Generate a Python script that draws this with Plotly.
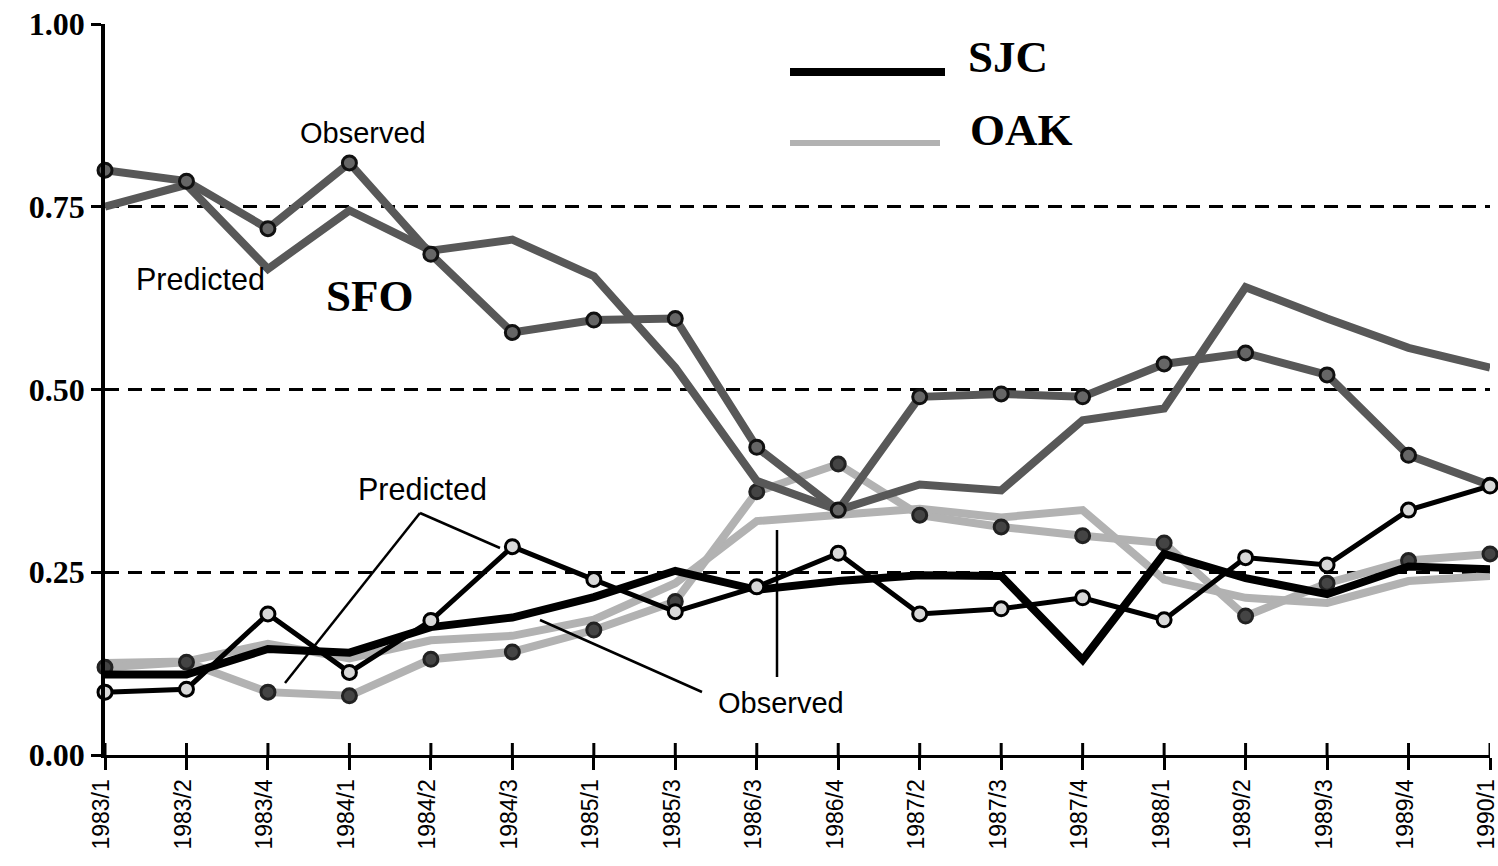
import plotly.graph_objects as go

# Quarterly periods on the category axis
periods = ["1983/1", "1983/2", "1983/4", "1984/1", "1984/2", "1984/3", "1985/1",
           "1985/3", "1986/3", "1986/4", "1987/2", "1987/3", "1987/4", "1988/1",
           "1989/2", "1989/3", "1989/4", "1990/1"]

# Airport shares: observed vs. predicted
sfo_observed = [0.80, 0.785, 0.72, 0.81, 0.685, 0.578, 0.595, 0.597, 0.421, 0.335,
                0.49, 0.494, 0.49, 0.535, 0.55, 0.52, 0.41, 0.369]
sfo_predicted = [0.75, 0.78, 0.665, 0.745, 0.69, 0.705, 0.655, 0.53, 0.375, 0.335,
                 0.37, 0.362, 0.458, 0.474, 0.64, 0.597, 0.557, 0.53]

oak_observed = [0.12, 0.127, 0.086, 0.081, 0.131, 0.141, 0.171, 0.21, 0.36, 0.398,
                0.328, 0.312, 0.30, 0.29, 0.19, 0.235, 0.266, 0.275]
oak_predicted = [0.126, 0.128, 0.152, 0.132, 0.157, 0.163, 0.185, 0.235, 0.32, 0.328,
                 0.337, 0.325, 0.335, 0.24, 0.215, 0.208, 0.238, 0.245]

sjc_observed = [0.086, 0.09, 0.193, 0.113, 0.184, 0.285, 0.24, 0.196, 0.23, 0.276,
                0.193, 0.2, 0.215, 0.185, 0.27, 0.26, 0.335, 0.368]
sjc_predicted = [0.11, 0.11, 0.145, 0.14, 0.175, 0.188, 0.216, 0.252, 0.226, 0.238,
                 0.246, 0.245, 0.13, 0.275, 0.242, 0.22, 0.258, 0.254]

y_ticks = [0.0, 0.25, 0.5, 0.75, 1.0]
y_tick_text = ["0.00", "0.25", "0.50", "0.75", "1.00"]

SFO_GRAY = "#585858"
OAK_GRAY = "#b2b2b2"

fig = go.Figure()


def add_pair(observed, predicted, color, width_obs, width_pred, marker_fill, marker_line):
    fig.add_trace(go.Scatter(
        x=periods, y=predicted, mode="lines",
        line=dict(color=color, width=width_pred), showlegend=False, hoverinfo="skip"))
    fig.add_trace(go.Scatter(
        x=periods, y=observed, mode="lines+markers",
        line=dict(color=color, width=width_obs),
        marker=dict(symbol="circle", size=14, color=marker_fill,
                    line=dict(color=marker_line, width=3)),
        cliponaxis=False, showlegend=False, hoverinfo="skip"))


add_pair(oak_observed, oak_predicted, OAK_GRAY, 8, 8, "#444444", "#222222")
add_pair(sfo_observed, sfo_predicted, SFO_GRAY, 8, 8, "#666666", "#111111")
add_pair(sjc_observed, sjc_predicted, "#000000", 5, 8, "#d8d8d8", "#000000")

L, R, T, B = 105, 8, 24, 111
W, H = 1498, 866
pw, ph = W - L - R, H - T - B


def px(xp):
    return (xp - L) / pw


def py(yp):
    return (H - B - yp) / ph


shapes = []
# tick marks crossing the category axis
for p in periods:
    shapes.append(dict(type="line", xref="x", yref="paper", x0=p, x1=p,
                       y0=0, y1=12 / ph, line=dict(color="black", width=3)))

# legend swatches
shapes.append(dict(type="line", xref="paper", yref="paper",
                   x0=px(790), x1=px(945), y0=py(72), y1=py(72),
                   line=dict(color="black", width=8)))
shapes.append(dict(type="line", xref="paper", yref="paper",
                   x0=px(790), x1=px(940), y0=py(143), y1=py(143),
                   line=dict(color=OAK_GRAY, width=6)))

# leader lines for the lower labels
leaders = [((420, 513), (285, 683)), ((420, 513), (500, 548)),
           ((540, 620), (702, 692)), ((777, 530), (777, 677))]
for (xa, ya), (xb, yb) in leaders:
    shapes.append(dict(type="line", xref="paper", yref="paper",
                       x0=px(xa), y0=py(ya), x1=px(xb), y1=py(yb),
                       line=dict(color="black", width=2.5)))

sans_obs = dict(family="Liberation Sans, Arial, sans-serif", size=29, color="black")
sans_pred = dict(family="Liberation Sans, Arial, sans-serif", size=30.5, color="black")
serif_bold = dict(family="Liberation Serif, Times New Roman, serif", size=45,
                  color="black", weight="bold")

annotations = []


def label(text, xp, yp, font, xanchor="center"):
    annotations.append(dict(text=text, x=px(xp), y=py(yp), xref="paper", yref="paper",
                            showarrow=False, font=font, xanchor=xanchor, yanchor="middle"))


label("Observed", 363, 133, sans_obs)
label("Predicted", 200, 279, sans_pred)
label("SFO", 370, 296, serif_bold)
label("Predicted", 422, 489, sans_pred)
label("Observed", 781, 703, sans_obs)
label("SJC", 966, 57, serif_bold, xanchor="left")
label("OAK", 968, 130, serif_bold, xanchor="left")

fig.update_layout(
    width=W, height=H,
    margin=dict(l=L, r=R, t=T, b=B, autoexpand=False),
    plot_bgcolor="white", paper_bgcolor="white",
    shapes=shapes, annotations=annotations,
    xaxis=dict(
        type="category", range=[0, len(periods) - 1], automargin=False,
        showline=True, linecolor="black", linewidth=3,
        ticks="outside", ticklen=12, tickwidth=3, tickcolor="black",
        tickangle=-90, showgrid=False, zeroline=False, ticklabelshift=-3,
        tickfont=dict(family="Liberation Sans, Arial, sans-serif", size=23, color="black"),
    ),
    yaxis=dict(
        range=[0, 1], tickvals=y_ticks, ticktext=y_tick_text, automargin=False,
        showline=True, linecolor="black", linewidth=3.5,
        ticks="outside", ticklen=10, tickwidth=3, tickcolor="black",
        showgrid=True, gridcolor="black", gridwidth=3, griddash="14px,9px",
        zeroline=False,
        tickfont=dict(family="Liberation Serif, Times New Roman, serif", size=32,
                      color="black", weight="bold"),
    ),
)

fig.write_html("out.html")
